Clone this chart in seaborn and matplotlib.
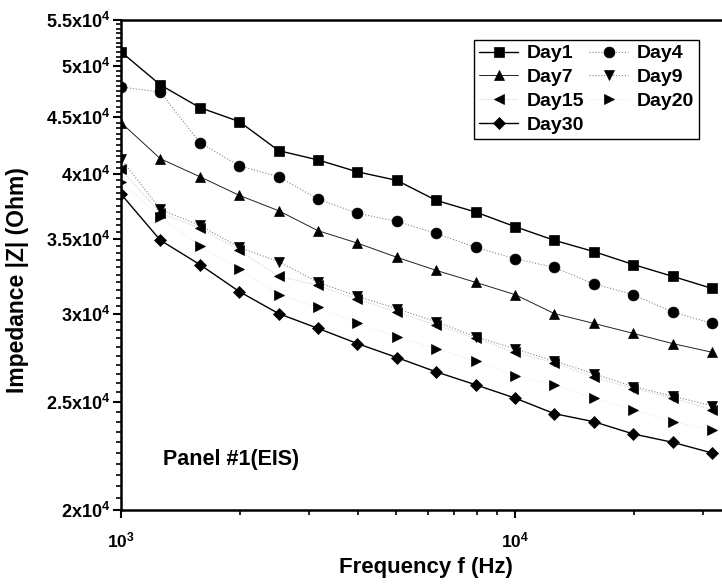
import numpy as np
import pandas as pd
import matplotlib
matplotlib.use("Agg")
import matplotlib.pyplot as plt
from matplotlib.ticker import FixedLocator, NullFormatter, FixedFormatter
import seaborn as sns

# Measurement frequencies (Hz), 10 points per decade
freq = [1000, 1259, 1585, 1995, 2512, 3162, 3981, 5012, 6310, 7943,
        10000, 12589, 15849, 19953, 25119, 31623]

# |Z| (Ohm) for each day of exposure
day1 = [51500, 48100, 45900, 44600, 42000, 41200, 40200, 39500, 37900, 37000,
        35900, 34900, 34100, 33200, 32400, 31600]
day4 = [47900, 47400, 42700, 40700, 39800, 38000, 36900, 36300, 35400, 34400,
        33600, 33000, 31900, 31200, 30100, 29400]
day7 = [44500, 41300, 39800, 38300, 37100, 35600, 34700, 33700, 32800, 32000,
        31200, 30000, 29400, 28800, 28200, 27700]
day9 = [41300, 37200, 36000, 34400, 33400, 32000, 31100, 30300, 29500, 28600,
        27900, 27200, 26500, 25800, 25300, 24800]
day15 = [40400, 36900, 35800, 34200, 32400, 31800, 30900, 30100, 29300, 28500,
         27700, 27100, 26300, 25700, 25200, 24600]
day20 = [39400, 36600, 34500, 32900, 31200, 30400, 29400, 28600, 27900, 27200,
         26400, 25900, 25200, 24600, 24000, 23600]
day30 = [38400, 34900, 33200, 31400, 30000, 29100, 28200, 27400, 26600, 25900,
         25200, 24400, 24000, 23400, 23000, 22500]

labels = ["Day1", "Day4", "Day7", "Day9", "Day15", "Day20", "Day30"]
series = [day1, day4, day7, day9, day15, day20, day30]

y_ticks = [20000, 25000, 30000, 35000, 40000, 45000, 50000, 55000]
y_tick_labels = [r"$\mathrm{2x10}^{4}$", r"$\mathrm{2.5x10}^{4}$", r"$\mathrm{3x10}^{4}$",
                 r"$\mathrm{3.5x10}^{4}$", r"$\mathrm{4x10}^{4}$", r"$\mathrm{4.5x10}^{4}$",
                 r"$\mathrm{5x10}^{4}$", r"$\mathrm{5.5x10}^{4}$"]
x_ticks = [1000, 10000]
x_tick_labels = [r"$\mathrm{10}^{3}$", r"$\mathrm{10}^{4}$"]

sns.set_style("ticks")
plt.rcParams["font.family"] = ["Liberation Sans", "DejaVu Sans"]
plt.rcParams["font.weight"] = "bold"
plt.rcParams["text.color"] = "black"
plt.rcParams["axes.labelcolor"] = "black"
plt.rcParams["xtick.color"] = "black"
plt.rcParams["ytick.color"] = "black"
plt.rcParams["mathtext.fontset"] = "custom"
plt.rcParams["mathtext.rm"] = "Liberation Sans:bold"
plt.rcParams["mathtext.bf"] = "Liberation Sans:bold"
plt.rcParams["mathtext.it"] = "Liberation Sans:bold"

fig = plt.figure(figsize=(7.22, 5.86), dpi=100)
ax = fig.add_axes([121 / 722, 76 / 586, 601 / 722, 490 / 586])

styles = [
    dict(marker="s", ls="-", lw=1.0, color="black"),
    dict(marker="o", ls=":", lw=0.8, color="#888888"),
    dict(marker="^", ls="-", lw=0.7, color="#222222"),
    dict(marker="v", ls=":", lw=0.8, color="#888888"),
    dict(marker="<", ls=":", lw=0.6, color="#bbbbbb"),
    dict(marker=">", ls=":", lw=0.5, color="#dddddd"),
    dict(marker="D", ls="-", lw=1.0, color="black"),
]

for lab, vals, st in zip(labels, series, styles):
    df = pd.DataFrame({"f": freq, "Z": vals})
    ms = 6.5 if st["marker"] == "D" else 7.8
    sns.lineplot(data=df, x="f", y="Z", ax=ax, label=lab,
                 marker=st["marker"], linestyle=st["ls"], linewidth=st["lw"],
                 color=st["color"], markersize=ms, markerfacecolor="black",
                 markeredgecolor="black", markeredgewidth=0.5)

ax.set_xscale("log")
ax.set_yscale("log")
ax.set_xlim(1000, 10 ** (3 + 601 / 394))
ax.set_ylim(20000, 55000)

ax.xaxis.set_major_locator(FixedLocator(x_ticks))
ax.xaxis.set_major_formatter(FixedFormatter(x_tick_labels))
x_minor = [m * 1000 for m in range(2, 10)] + [20000, 30000]
ax.xaxis.set_minor_locator(FixedLocator(x_minor))
ax.xaxis.set_minor_formatter(NullFormatter())

ax.yaxis.set_major_locator(FixedLocator(y_ticks))
ax.yaxis.set_major_formatter(FixedFormatter(y_tick_labels))
ax.yaxis.set_minor_locator(FixedLocator(list(range(20000, 55001, 500))))
ax.yaxis.set_minor_formatter(NullFormatter())

ax.tick_params(axis="both", which="major", direction="out", length=6, width=1.5,
               colors="black")
ax.tick_params(axis="y", which="major", labelsize=13, pad=2)
ax.tick_params(axis="x", which="major", labelsize=12.5, pad=9)
ax.tick_params(axis="both", which="minor", direction="out", length=3.5, width=1.2,
               colors="black")

for side in ["left", "bottom", "top"]:
    ax.spines[side].set_linewidth(1.8)
    ax.spines[side].set_color("black")
ax.spines["right"].set_visible(False)

ax.set_xlabel("Frequency f (Hz)", fontsize=16, fontweight="bold")
ax.set_ylabel("Impedance |Z| (Ohm)", fontsize=16.5, fontweight="bold")
ax.xaxis.set_label_coords(0.507, -0.096)
ax.yaxis.set_label_coords(-0.153, 0.47)

# annotation placed in display pixels (origin at bottom-left)
ax.text(163, 586 - 460, "Panel #1(EIS)", transform=None, fontsize=15.5,
        fontweight="bold", va="center", ha="left")

handles, labs = ax.get_legend_handles_labels()
order = [0, 2, 4, 6, 1, 3, 5]
leg = ax.legend([handles[i] for i in order], [labs[i] for i in order], ncol=2,
                loc="upper right", bbox_to_anchor=(699 / 722, 1 - 40 / 586),
                bbox_transform=fig.transFigure, borderaxespad=0, frameon=True,
                fancybox=False, framealpha=1, edgecolor="black",
                prop={"weight": "bold", "size": 14}, handlelength=2.0,
                handletextpad=0.45, columnspacing=0.25, labelspacing=0.32,
                borderpad=0.25)
leg.get_frame().set_linewidth(1.0)

fig.savefig("out.png", dpi=100)
